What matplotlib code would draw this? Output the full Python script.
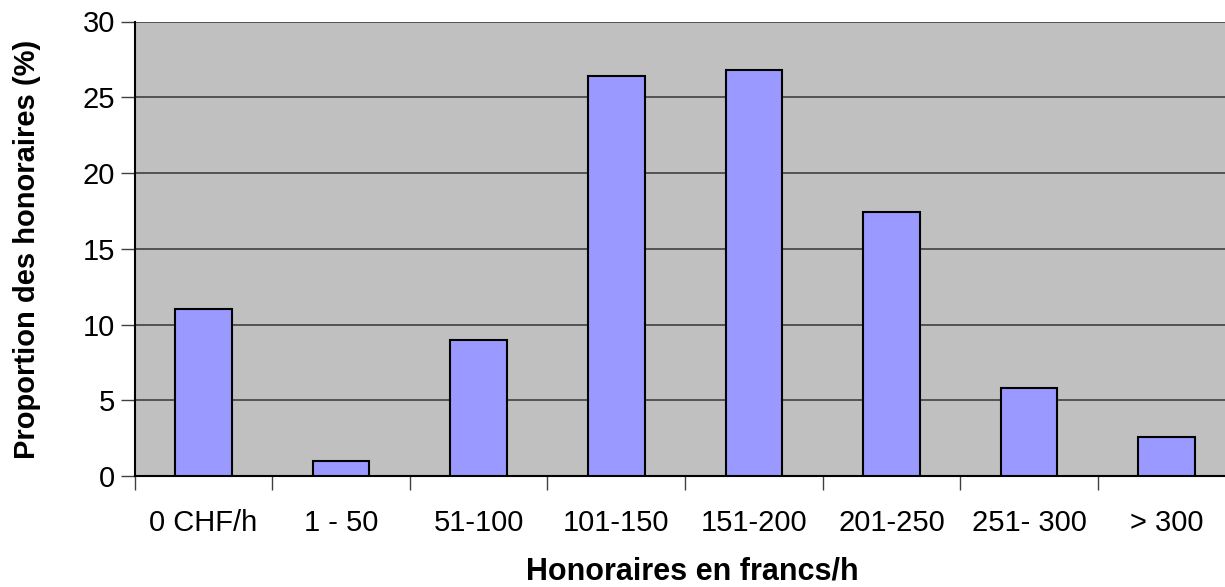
import matplotlib
matplotlib.use("Agg")
import matplotlib.pyplot as plt
import numpy as np

categories = ["0 CHF/h", "1 - 50", "51-100", "101-150", "151-200", "201-250", "251- 300", "> 300"]
values = [11.0, 1.0, 9.0, 26.4, 26.8, 17.45, 5.8, 2.6]

plt.rcParams["font.family"] = ["Liberation Sans", "DejaVu Sans"]

fig = plt.figure(figsize=(12.25, 5.87), dpi=100)
W, H = 1225, 587
left, right, top, bottom = 134.7, 1235.5, 21.5, 476
ax = fig.add_axes([left / W, 1 - bottom / H, (right - left) / W, (bottom - top) / H])
ax.set_facecolor("#C0C0C0")

x = np.arange(len(categories))
ax.bar(x, values, width=0.41, color="#9999FF", edgecolor="black", linewidth=1.5, zorder=3)

ax.set_xlim(-0.5, len(categories) - 0.5)
ax.set_ylim(0, 30)
ax.set_yticks(np.arange(0, 31, 5))
ax.yaxis.grid(True, color="#404040", linewidth=1.2, zorder=1)
ax.set_axisbelow(True)

ax.set_xticks(np.arange(-0.5, len(categories), 1.0))
ax.set_xticklabels([])
ax.set_xticks(x, minor=True)
ax.set_xticklabels(categories, minor=True, fontsize=21)
ax.tick_params(axis="x", which="major", length=10, width=1, color="#404040", direction="out")
ax.tick_params(axis="x", which="minor", length=0, pad=24)
ax.tick_params(axis="y", length=10, width=1, color="#404040", labelsize=21, pad=4)

for s in ["top", "right"]:
    ax.spines[s].set_visible(False)
ax.spines["left"].set_color("black")
ax.spines["bottom"].set_color("black")
ax.spines["left"].set_linewidth(1.5)
ax.spines["bottom"].set_linewidth(1.5)

fig.text(692 / W, 1 - 572 / H, "Honoraires en francs/h",
         ha="center", va="center", fontsize=22, fontweight="bold")
fig.text(27 / W, 1 - 249 / H, "Proportion des honoraires (%)", rotation=90,
         ha="center", va="center", fontsize=21, fontweight="bold")

fig.savefig("out.png", dpi=100)
